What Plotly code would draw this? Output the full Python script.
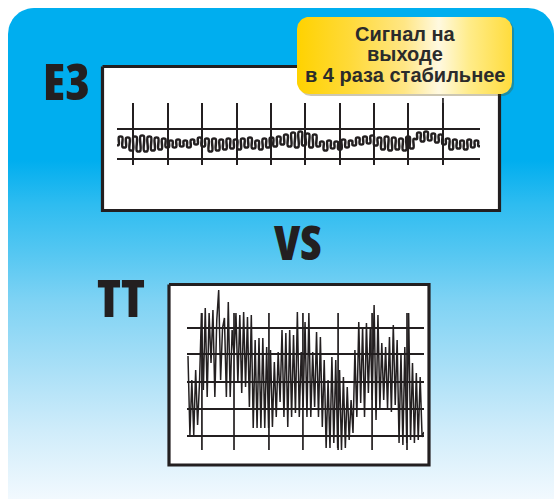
import numpy as np
import plotly.graph_objects as go

W, H = 555, 499

# ---------------- data ----------------
# E3: stabilised output signal (arbitrary units, reference lines at 0 and 30)
e3_signal = [14, 22, 12, 21, 9,
             22, 8, 23, 8, 22, 9, 21, 10, 20, 12, 18,
             12, 19, 13, 18, 12, 19,
             15, 21, 13, 20,
             8, 20, 9, 19, 10, 20, 11, 19, 10,
             20, 12, 21, 11, 18, 10, 20, 12, 21, 13,
             22, 15, 24, 13,
             26, 12, 27, 14, 25, 12, 24, 13,
             17, 9, 18, 11, 17, 10, 19, 12, 18,
             14, 21, 15, 22, 16, 23, 14, 21,
             10, 22, 9, 21, 10, 20, 9, 22, 11, 20,
             26, 18, 27, 19, 25, 17, 24, 15,
             20, 10, 19, 11, 18, 10, 19, 12, 18, 13]
e3_time_grid = [4.4, 14, 23.4, 33.1, 42.4, 51.8, 61.4, 70.8, 80.2, 89.8]
e3_levels = [0, 30]

# TT: unstabilised output signal (arbitrary units, reference lines below)
tt_signal = [80, 1, 56, 1, 66, 11, 53, 123, 46, 128, 39, 123, 73, 126, 39, 116,
             146, 56, 108, 118, 39, 134, 39, 106, 81, 123, 53, 121, 43, 124, 49,
             119, 29, 121, 8, 96, 8, 98, 8, 98, 8, 89, 8, 86, 9, 74, 19, 84, 34,
             106, 19, 103, 9, 106, 19, 101, 23, 124, 19, 84, 29, 114, 19, 123, 19,
             84, 29, 104, 19, 99, 9, 76, -12, 56, -12, 79, -7, 76, -12, 66, -14,
             59, -12, 49, -4, 36, 3, 86, 19, 114, 33, 109, 19, 113, 43, 108, 36,
             131, 16, 121, 28, 93, 36, 89, 28, 99, 24, 111, 31, 96, -7, 83, -9,
             89, -7, 123, -4, 73, -7, 63, -4, 59, -1, 4]
tt_time_grid = [5.9, 19.5, 34.3, 48.7, 63.6, 78.0, 92.8]
tt_levels = [0, 27, 54, 82, 108]
tt_grid_span = [-14, 123]

labels = ["E3", "VS", "TT"]
callout_lines = ["Сигнал на", "выходе", "в 4 раза стабильнее"]

# ---------------- helpers ----------------
def rrect(x0, y0, x1, y1, r, n=14):
    xs, ys = [], []
    corners = [(x1 - r, y0 + r, -90, 0), (x1 - r, y1 - r, 0, 90),
               (x0 + r, y1 - r, 90, 180), (x0 + r, y0 + r, 180, 270)]
    for cx, cy, a0, a1 in corners:
        a = np.radians(np.linspace(a0, a1, n))
        xs += list(cx + r * np.cos(a))
        ys += list(cy + r * np.sin(a))
    xs.append(xs[0]); ys.append(ys[0])
    return xs, ys

def px(x):
    return x / W

def py(y):
    return 1 - y / H

INK = "#231F20"

fig = go.Figure()

# background panel with vertical gradient
bx, by = rrect(8, 8, 554, 540, 26)
fig.add_trace(go.Scatter(
    x=bx, y=by, mode="lines", fill="toself", line=dict(width=0),
    fillgradient=dict(type="vertical", start=8, stop=499,
                      colorscale=[[0, "#00AEEF"], [0.31, "#00AEEF"],
                                  [0.40, "#2EBCF0"], [0.50, "#55C7F2"],
                                  [0.60, "#80D3F4"], [0.74, "#ABE0F7"],
                                  [0.86, "#CFECFA"], [1, "#F2F9FE"]]),
    hoverinfo="skip", showlegend=False, xaxis="x", yaxis="y"))

# white scope boxes
for (x0, y0, x1, y1) in [(102.5, 66.5, 499.5, 210.5), (169, 284.5, 429, 465)]:
    xs = [x0, x1, x1, x0, x0]
    ys = [y0, y0, y1, y1, y0]
    fig.add_trace(go.Scatter(x=xs, y=ys, mode="lines", fill="toself",
                             fillcolor="white", line=dict(color=INK, width=3.2),
                             hoverinfo="skip", showlegend=False,
                             xaxis="x", yaxis="y"))

# callout shadow + callout
sx, sy = rrect(299, 19, 514, 96, 12)
fig.add_trace(go.Scatter(x=sx, y=sy, mode="lines", fill="toself",
                         fillcolor="rgba(90,70,0,0.30)", line=dict(width=0),
                         hoverinfo="skip", showlegend=False, xaxis="x", yaxis="y"))
cx, cy = rrect(297, 17, 512, 94, 12)
fig.add_trace(go.Scatter(
    x=cx, y=cy, mode="lines", fill="toself", line=dict(width=0),
    fillgradient=dict(type="horizontal", start=297, stop=512,
                      colorscale=[[0, "#FFD200"], [0.25, "#FFDA3A"],
                                  [0.50, "#FFE685"], [0.66, "#FFF9E0"],
                                  [0.80, "#FFEC8A"], [1, "#FFDC3C"]]),
    hoverinfo="skip", showlegend=False, xaxis="x", yaxis="y"))

# E3 signal: each turning point drawn as a short rounded crest (pen trace)
e3_t = np.linspace(0, 100, len(e3_signal))
half = 0.45
e3_x = np.column_stack([e3_t - half, e3_t + half]).ravel()
e3_y = np.repeat(e3_signal, 2)
fig.add_trace(go.Scatter(x=e3_x, y=e3_y, mode="lines",
                         line=dict(color=INK, width=2.5, shape="spline", smoothing=1.0),
                         hoverinfo="skip", showlegend=False, xaxis="x2", yaxis="y2"))

# TT signal
tt_t = np.linspace(0, 100, len(tt_signal))
fig.add_trace(go.Scatter(x=tt_t, y=tt_signal, mode="lines",
                         line=dict(color=INK, width=1.5),
                         hoverinfo="skip", showlegend=False, xaxis="x3", yaxis="y3"))

shapes = []
for t in tt_time_grid:
    shapes.append(dict(type="line", xref="x3", yref="y3", x0=t, x1=t,
                       y0=tt_grid_span[0], y1=tt_grid_span[1],
                       line=dict(color=INK, width=1.7), layer="above"))
# the last E3 marker line reaches a little higher
shapes.append(dict(type="line", xref="x2", yref="paper",
                   x0=e3_time_grid[-1], x1=e3_time_grid[-1],
                   y0=py(104), y1=py(98), line=dict(color=INK, width=1.7),
                   layer="above"))

hidden = dict(visible=True, showticklabels=False, ticks="", zeroline=False,
              showline=False, fixedrange=True)

fig.update_layout(
    width=W, height=H, margin=dict(l=0, r=0, t=0, b=0),
    paper_bgcolor="white", plot_bgcolor="rgba(0,0,0,0)",
    showlegend=False, shapes=shapes,
    xaxis=dict(domain=[0, 1], range=[0, W], visible=False, fixedrange=True),
    yaxis=dict(domain=[0, 1], range=[H, 0], visible=False, fixedrange=True),
    xaxis2=dict(domain=[px(117), px(480)], range=[0, 100], anchor="y2",
                tickvals=e3_time_grid, showgrid=True, gridcolor=INK, gridwidth=1.7,
                **hidden),
    yaxis2=dict(domain=[py(165), py(103)], range=[-6, 56], anchor="x2",
                tickvals=e3_levels, showgrid=True, gridcolor=INK, gridwidth=1.7,
                **hidden),
    xaxis3=dict(domain=[px(187), px(424)], range=[-0.42, 100], anchor="y3",
                showgrid=False, **hidden),
    yaxis3=dict(domain=[py(453), py(288)], range=[-17, 148], anchor="x3",
                tickvals=tt_levels, showgrid=True, gridcolor=INK, gridwidth=1.7,
                **hidden),
)

for text, (x, y, s) in zip(labels, [(66, 81, 50), (297.5, 242, 47), (121, 296, 52)]):
    fig.add_annotation(text=f'<span style="font-stretch:75%;font-weight:800">{text}</span>',
                       x=px(x), y=py(y), xref="paper", yref="paper",
                       xanchor="center", yanchor="middle", showarrow=False,
                       font=dict(size=s, family="Open Sans", color=INK, weight=800))

for text, y in zip(callout_lines, [34, 54.5, 75]):
    fig.add_annotation(text=text, x=px(405), y=py(y), xref="paper", yref="paper",
                       xanchor="center", yanchor="middle", showarrow=False,
                       font=dict(family="Liberation Sans, Arial, sans-serif",
                                 size=20, color="#2B2B2B", weight="bold"))

fig.write_html("out.html", post_script="document.body.style.margin='0px';",
               config={"displayModeBar": False, "staticPlot": True})
